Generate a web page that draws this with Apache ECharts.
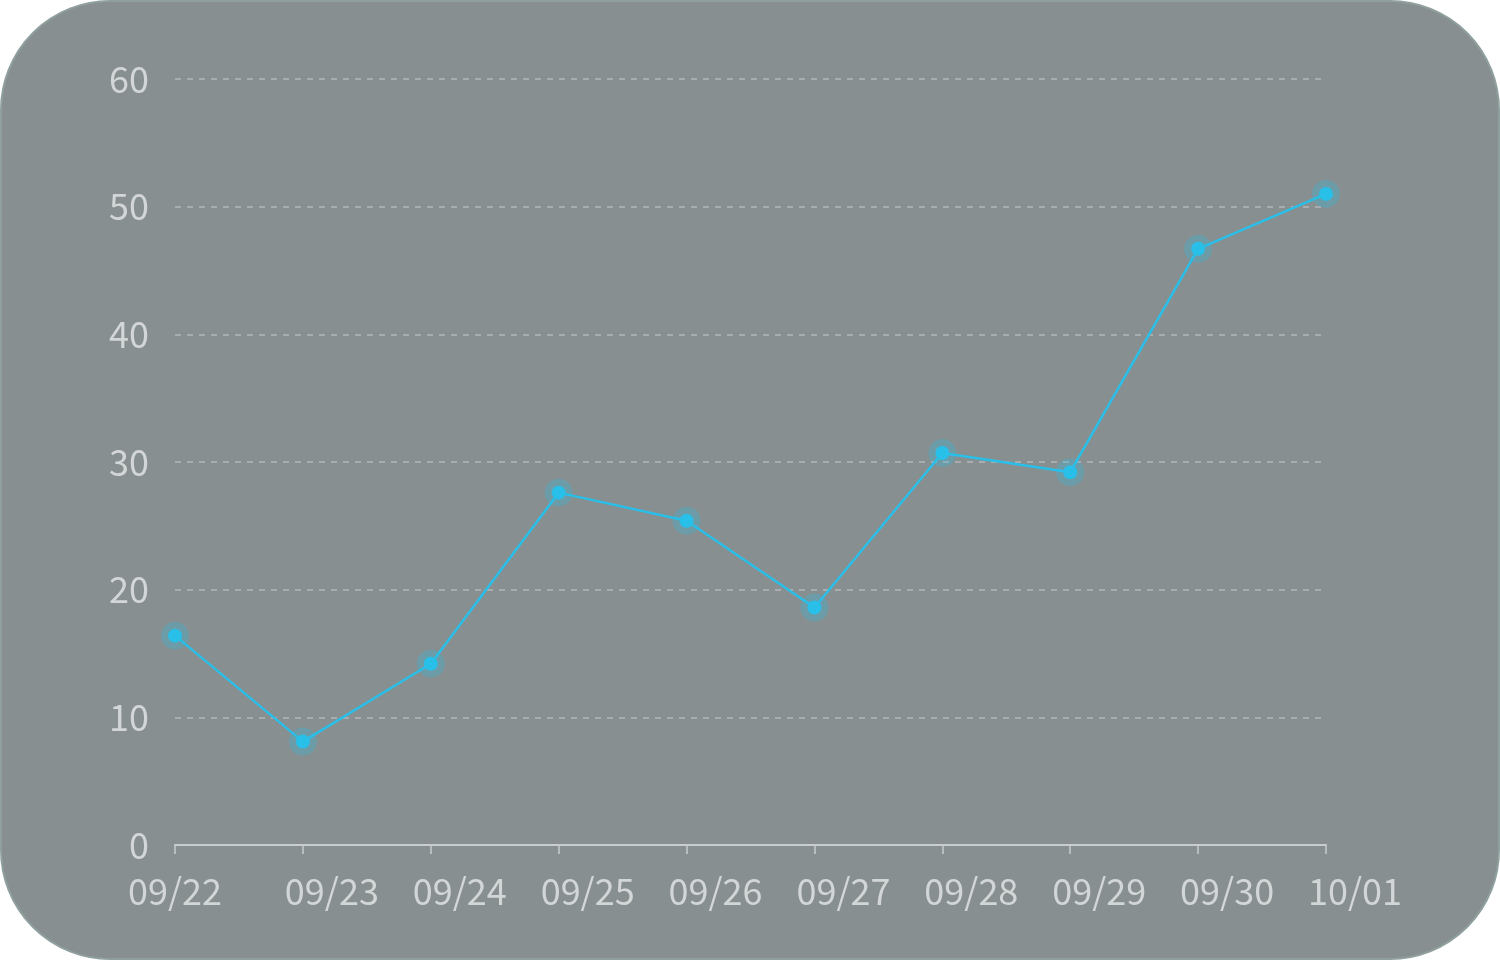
<!DOCTYPE html>
<html>
<head>
<meta charset="utf-8">
<script src="https://cdn.jsdelivr.net/npm/echarts@6/dist/echarts.min.js"></script>
<style>
  html, body { margin: 0; padding: 0; background: #fff; }
  #chart {
    width: 1500px; height: 960px; box-sizing: border-box;
    background: #888f90; border: 2px solid #8fa09e; border-radius: 110px;
  }
</style>
</head>
<body>
<div id="chart"></div>
<script>
const dates = ["09/22", "09/23", "09/24", "09/25", "09/26", "09/27", "09/28", "09/29", "09/30", "10/01"];
const values = [16.4, 8.1, 14.2, 27.6, 25.4, 18.6, 30.7, 29.2, 46.7, 51.0];
const yTicks = [0, 10, 20, 30, 40, 50, 60];

const chart = echarts.init(document.getElementById("chart"), null, { renderer: "canvas" });

const option = {
  textStyle: { fontFamily: "Noto Sans CJK SC" },
  grid: { top: 77, left: 173, right: 172, bottom: 113, containLabel: false },
  xAxis: {
    type: "category",
    boundaryGap: false,
    data: dates,
    axisLine: { lineStyle: { color: "#c9cccd", width: 2 } },
    axisTick: { alignWithLabel: true, length: 9, lineStyle: { color: "#c9cccd", width: 1.5 } },
    axisLabel: {
      color: "#d3d6d7",
      fontSize: 36,
      margin: 28,
      interval: 0,
      formatter: (v, i) => (i === 0 ? "{f|" + v + "}" : "{o|" + v + "}"),
      rich: {
        f: { fontSize: 36, color: "#d3d6d7", fontFamily: "Noto Sans CJK SC" },
        o: { fontSize: 36, color: "#d3d6d7", fontFamily: "Noto Sans CJK SC", padding: [0, 0, 0, 58] }
      }
    }
  },
  yAxis: {
    type: "value",
    min: yTicks[0],
    max: yTicks[yTicks.length - 1],
    interval: 10,
    axisLine: { show: false },
    axisTick: { show: false },
    axisLabel: { color: "#d3d6d7", fontSize: 36, margin: 26 },
    splitLine: { lineStyle: { color: "#b4b8b9", type: [6, 6], width: 1.5 } }
  },
  series: [{
    type: "line",
    data: values,
    symbol: "circle",
    symbolSize: 14,
    lineStyle: { color: "#29bfe9", width: 2.5 },
    itemStyle: {
      color: "#29bfe9",
      borderColor: "rgba(41,191,233,0.28)",
      borderWidth: 14
    }
  }]
};

chart.setOption(option);
</script>
</body>
</html>
